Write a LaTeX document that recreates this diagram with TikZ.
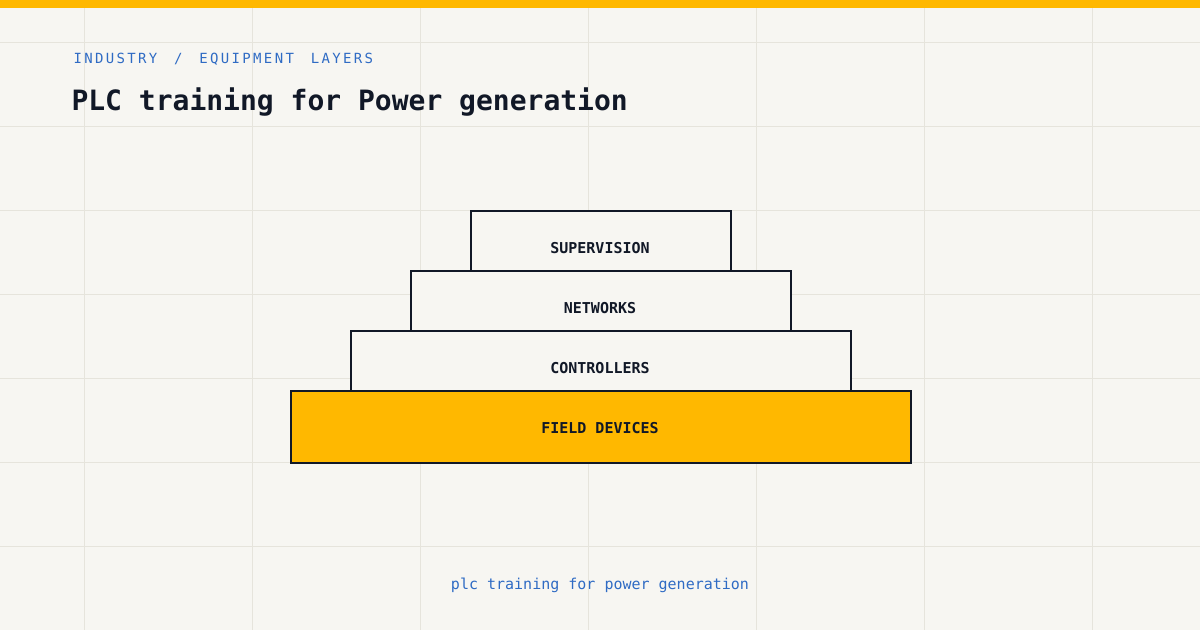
\documentclass[tikz,border=0pt]{standalone}
\usepackage{fontspec}
\setmonofont{DejaVu Sans Mono}
\definecolor{bg}{HTML}{F7F6F2}
\definecolor{gridc}{HTML}{E6E4DC}
\definecolor{acc}{HTML}{FFB800}
\definecolor{ink}{HTML}{111827}
\definecolor{blu}{HTML}{2F6BC4}
\begin{document}
\begin{tikzpicture}[x=1pt,y=-1pt,
 layer/.style={draw=ink,line width=1.5pt,fill=bg,anchor=north west,inner sep=0pt},
 lab/.style={font=\ttfamily\bfseries\fontsize{15}{18}\selectfont,text=ink}]
\useasboundingbox (0,0) rectangle (1200,630);
\fill[bg] (0,0) rectangle (1200,630);
\foreach \x in {84,252,420,588,756,924,1092} \draw[gridc,line width=1pt] (\x,0) -- (\x,630);
\foreach \y in {42,126,210,294,378,462,546} \draw[gridc,line width=1pt] (0,\y) -- (1200,\y);
\fill[acc] (0,0) rectangle (1200,8);
\node[anchor=west,text=blu,font=\ttfamily\fontsize{14}{16}\selectfont] (kick) at (70,59) {I\,N\,D\,U\,S\,T\,R\,Y\ \ /\ \ E\,Q\,U\,I\,P\,M\,E\,N\,T\ \ L\,A\,Y\,E\,R\,S};
\node[anchor=west,text=ink,font=\ttfamily\bfseries\fontsize{28}{32}\selectfont] (title) at (68,102) {PLC training for Power generation};
\node[layer,minimum width=260pt,minimum height=60pt] (sup) at (470,210) {};
\node[layer,minimum width=380pt,minimum height=60pt] (net) at (410,270) {};
\node[layer,minimum width=500pt,minimum height=60pt] (con) at (350,330) {};
\node[layer,fill=acc,minimum width=620pt,minimum height=72pt] (fld) at (290,390) {};
\node[lab] (tsup) at (600,248) {SUPERVISION};
\node[lab] (tnet) at (600,308) {NETWORKS};
\node[lab] (tcon) at (600,368) {CONTROLLERS};
\node[lab] (tfld) at (600,428) {FIELD DEVICES};
\node[text=blu,font=\ttfamily\fontsize{15}{18}\selectfont] (foot) at (600,585) {plc training for power generation};
\end{tikzpicture}
\end{document}
